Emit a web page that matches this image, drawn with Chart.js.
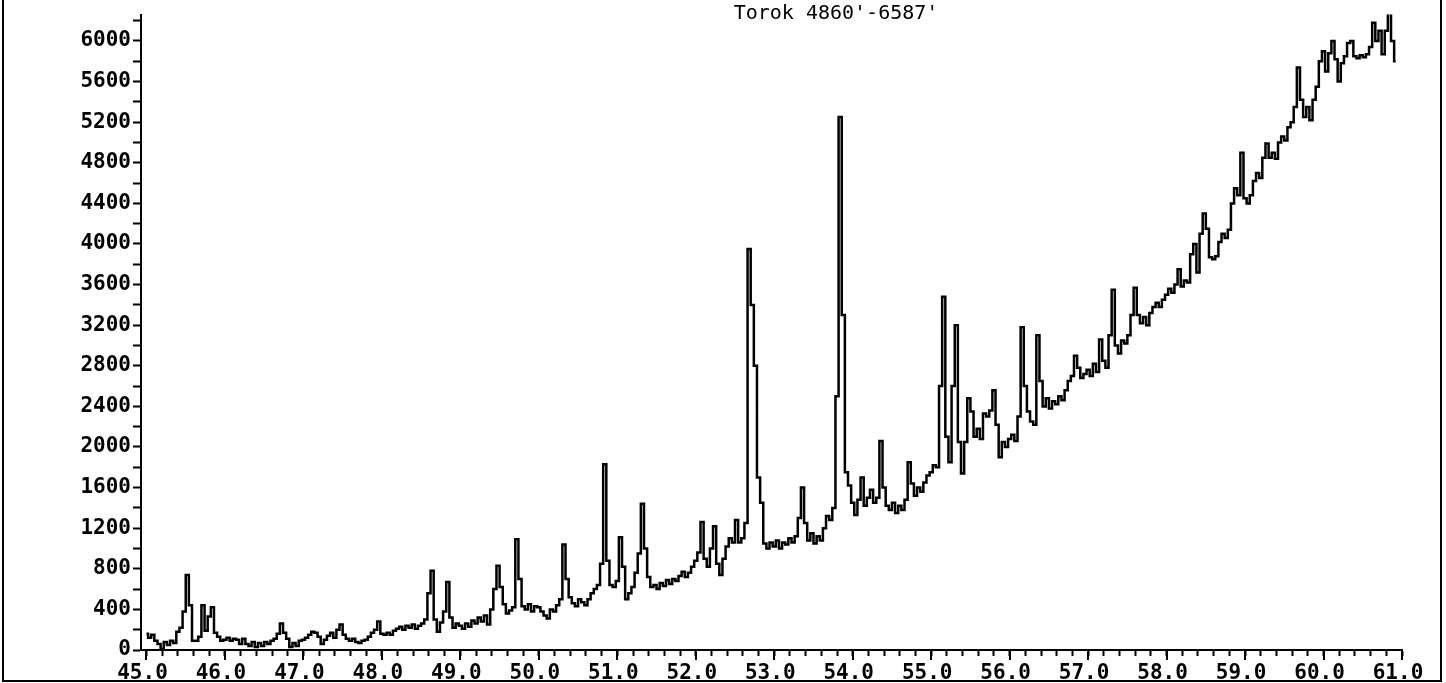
<!DOCTYPE html>
<html>
<head>
<meta charset="utf-8">
<title>Torok 4860'-6587'</title>
<script src="https://cdn.jsdelivr.net/npm/chart.js@4.4.1/dist/chart.umd.min.js"></script>
<style>
  html, body { margin: 0; padding: 0; background: #fff; }
  canvas { display: block; }
</style>
</head>
<body>
<canvas id="scan" width="1446" height="683"></canvas>
<script>
// Diffractogram: counts per 0.04 deg step of 2-theta, one array per degree.
const START_ANGLE = 45.0;
const STEP = 0.04;
const TITLE = "Torok 4860'-6587'";

const counts45 = [160,120,150,90,60,10,80,50,90,70,180,220,380,740,440,90,90,130,440,190,330,420,170,130,90];
const counts46 = [100,120,90,110,100,60,110,60,40,80,30,70,40,80,60,90,110,160,260,170,110,30,70,40,90];
const counts47 = [100,120,150,180,170,130,60,100,140,170,120,200,250,150,110,90,110,80,70,90,100,130,170,200,280];
const counts48 = [160,150,170,150,190,210,230,200,240,220,250,210,240,260,300,560,780,300,180,270,380,670,320,220,260];
const counts49 = [240,210,260,230,290,260,320,280,340,250,400,600,830,620,450,360,390,420,1090,700,430,400,450,380,430];
const counts50 = [420,380,340,310,400,380,440,500,1040,700,520,460,430,500,470,440,500,560,600,640,850,1830,880,640,620];
const counts51 = [680,1110,820,500,560,620,760,950,1440,1000,720,620,640,600,660,630,690,650,700,680,730,770,720,760,820];
const counts52 = [880,960,1260,900,820,1000,1220,850,740,900,1020,1100,1060,1280,1060,1100,1250,3950,3400,2800,1700,1450,1050,1000,1060];
const counts53 = [1020,1080,1000,1060,1040,1100,1060,1120,1300,1600,1250,1080,1150,1050,1120,1080,1200,1320,1280,1400,2500,5250,3300,1750,1620];
const counts54 = [1450,1330,1480,1700,1420,1500,1580,1450,1500,2060,1600,1420,1380,1450,1350,1420,1380,1480,1850,1640,1520,1600,1560,1650,1720];
const counts55 = [1750,1820,1800,2600,3480,2100,1850,2600,3200,2050,1740,2050,2480,2350,2100,2180,2080,2330,2300,2360,2560,2220,1900,2050,2000];
const counts56 = [2080,2120,2060,2300,3180,2600,2350,2250,2220,3100,2650,2400,2480,2380,2450,2420,2500,2460,2560,2650,2700,2900,2780,2680,2720];
const counts57 = [2760,2700,2820,2740,3060,2850,2780,3100,3550,3000,2920,3050,3020,3100,3300,3570,3300,3220,3280,3200,3320,3380,3420,3380,3450];
const counts58 = [3500,3560,3520,3600,3750,3580,3640,3620,3900,4000,3720,4100,4300,4150,3870,3850,3880,4020,4100,4060,4140,4400,4550,4480,4900];
const counts59 = [4450,4400,4480,4620,4700,4650,4850,4990,4850,4900,4840,5000,5060,5020,5150,5200,5350,5740,5420,5250,5350,5220,5420,5550,5800];
const counts60 = [5900,5700,5880,6000,5820,5600,5780,5850,5980,6000,5850,5830,5860,5840,5870,5940,6180,6000,6100,5870,6100,6270,6000,5800];

const counts = [].concat(counts45, counts46, counts47, counts48, counts49, counts50,
  counts51, counts52, counts53, counts54, counts55, counts56, counts57, counts58,
  counts59, counts60);
const angles = counts.map((_, i) => +(START_ANGLE + i * STEP).toFixed(2));

const MONO = "'DejaVu Sans Mono', monospace";

// Title text, longer ticks at whole degrees, and the outer frame of the sheet
const sheetDecor = {
  id: 'sheetDecor',
  afterDraw(chart) {
    const ctx = chart.ctx;
    const xs = chart.scales.x;
    const axisY = chart.chartArea.bottom;
    ctx.save();
    ctx.fillStyle = '#000';
    ctx.font = "20px " + MONO;
    ctx.textAlign = 'center';
    ctx.textBaseline = 'middle';
    ctx.fillText(TITLE, 836, 14);
    ctx.strokeStyle = '#000';
    ctx.lineWidth = 2;
    ctx.beginPath();
    for (let d = 45; d <= 61; d++) {
      const px = Math.round(xs.getPixelForValue(d));
      ctx.moveTo(px, axisY);
      ctx.lineTo(px, axisY + 10);
    }
    ctx.stroke();
    ctx.beginPath();
    ctx.moveTo(3, 0);
    ctx.lineTo(3, 681);
    ctx.lineTo(1441, 681);
    ctx.lineTo(1441, 0);
    ctx.stroke();
    ctx.restore();
  }
};

new Chart(document.getElementById('scan'), {
  type: 'line',
  data: {
    datasets: [{
      data: angles.map((x, i) => ({ x: x, y: counts[i] })),
      borderColor: '#000',
      borderWidth: 2.5,
      pointRadius: 0,
      stepped: 'middle',
      fill: false
    }]
  },
  options: {
    responsive: false,
    animation: false,
    devicePixelRatio: 1,
    layout: { padding: { left: 0, right: 44, top: 10, bottom: 0 } },
    plugins: { legend: { display: false }, tooltip: { enabled: false } },
    scales: {
      x: {
        type: 'linear',
        min: 44.93,
        max: 61.0,
        afterFit(scale) { scale.height = 33; },
        border: { display: true, color: '#000', width: 2 },
        grid: { drawOnChartArea: false, tickLength: 6, tickColor: '#000', tickWidth: 2 },
        ticks: {
          stepSize: 0.2,
          includeBounds: false,
          autoSkip: false,
          maxRotation: 0,
          padding: 5,
          labelOffset: -4,
          color: '#000',
          font: { family: MONO, size: 21, weight: 'bold' },
          callback: (v) => Math.abs(v - Math.round(v)) < 1e-6 ? Math.round(v).toFixed(1) : ''
        }
      },
      y: {
        min: 0,
        max: 6260,
        afterFit(scale) { scale.width = 141; },
        border: { display: true, color: '#000', width: 2 },
        grid: { drawOnChartArea: false, tickLength: 8, tickColor: '#000', tickWidth: 2 },
        ticks: {
          stepSize: 200,
          includeBounds: false,
          autoSkip: false,
          padding: 2,
          color: '#000',
          font: { family: MONO, size: 21, weight: 'bold' },
          callback: (v) => (v % 400 === 0) ? String(v) : ''
        }
      }
    }
  },
  plugins: [sheetDecor]
});
</script>
</body>
</html>
